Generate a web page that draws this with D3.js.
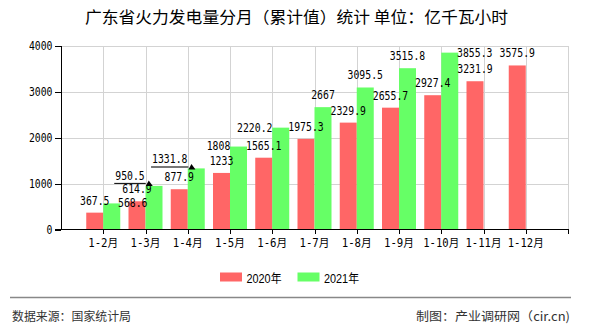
<!DOCTYPE html>
<html><head><meta charset="utf-8">
<script src="https://cdn.jsdelivr.net/npm/d3@7"></script>
<style>
html,body{margin:0;padding:0;background:#fff;}
svg{display:block;}
</style></head>
<body>
<svg id="chart" width="590" height="330"></svg>
<script>
// ---- data ----
const categories = ["1-2月","1-3月","1-4月","1-5月","1-6月","1-7月","1-8月","1-9月","1-10月","1-11月","1-12月"];
const values2020 = [367.5, 614.9, 877.9, 1233, 1565.1, 1975.3, 2329.9, 2655.7, 2927.4, 3231.9, 3575.9];
const values2021 = [568.6, 950.5, 1331.8, 1808, 2220.2, 2667, 3095.5, 3515.8, 3855.3, null, null];
const seriesNames = ["2020年", "2021年"];
const yTickValues = [0, 1000, 2000, 3000, 4000];
const titleText = "广东省火力发电量分月（累计值）统计 单位：亿千瓦小时";
const sourceText = "数据来源：国家统计局";
const creditText = "制图：产业调研网（cir.cn)";

(function () {
// ---- layout ----
const svg = d3.select("#chart");
const colors = ["#FF6666", "#66FF66"];
const mono = "'DejaVu Sans Mono','Liberation Mono','Noto Sans CJK SC',monospace";
const cjk = "'Noto Sans CJK SC','DejaVu Sans',sans-serif";
const pLeft = 61, pRight = 568, pTop = 46, pBottom = 229.5;
const barW = 17;

function simWidth(s, a, c) { let w = 0; for (const ch of s) w += ch.charCodeAt(0) < 128 ? a : c; return w; }

const x = d3.scalePoint().domain(categories).range([pLeft, pRight]).padding(1);
const y = d3.scaleLinear().domain([0, 4000]).range([pBottom, pTop]);

// grid
const grid = svg.append("g").attr("shape-rendering", "crispEdges");
grid.selectAll("line.h").data(yTickValues.filter(d => d > 0)).join("line")
  .attr("x1", pLeft).attr("x2", pRight).attr("y1", d => Math.round(y(d)) + 0.5).attr("y2", d => Math.round(y(d)) + 0.5)
  .attr("stroke", "#d3d3d3");
grid.selectAll("line.v").data(categories).join("line")
  .attr("x1", d => Math.round(x(d)) + 0.5).attr("x2", d => Math.round(x(d)) + 0.5)
  .attr("y1", pTop).attr("y2", pBottom).attr("stroke", "#d3d3d3");
grid.append("line").attr("x1", pRight + 0.5).attr("x2", pRight + 0.5).attr("y1", pTop).attr("y2", pBottom).attr("stroke", "#d3d3d3");

// bars
const series = [values2020, values2021];
series.forEach((vals, si) => {
  svg.append("g").selectAll("rect").data(categories.map((c, i) => ({c, v: vals[i]})).filter(d => d.v != null)).join("rect")
    .attr("x", d => x(d.c) + (si === 0 ? -barW : 0))
    .attr("width", barW)
    .attr("y", d => y(d.v))
    .attr("height", d => pBottom - y(d.v))
    .attr("fill", colors[si]);
});

// axes
const ax = svg.append("g").attr("shape-rendering", "crispEdges").attr("stroke", "#000");
ax.append("line").attr("x1", pLeft + 0.5).attr("x2", pLeft + 0.5).attr("y1", pTop).attr("y2", pBottom + 0.5);
ax.append("line").attr("x1", pLeft - 6).attr("x2", pRight + 1).attr("y1", pBottom).attr("y2", pBottom);
ax.selectAll("line.yt").data(yTickValues).join("line")
  .attr("x1", pLeft - 6).attr("x2", pLeft).attr("y1", d => Math.round(y(d)) + 0.5).attr("y2", d => Math.round(y(d)) + 0.5);
ax.selectAll("line.xt").data(categories).join("line")
  .attr("x1", d => Math.round(x(d)) + 0.5).attr("x2", d => Math.round(x(d)) + 0.5).attr("y1", pBottom).attr("y2", pBottom + 4);
ax.append("line").attr("x1", pRight + 0.5).attr("x2", pRight + 0.5).attr("y1", pBottom).attr("y2", pBottom + 4);

// y tick labels
svg.append("g").selectAll("text").data(yTickValues).join("text")
  .attr("x", 52.5).attr("y", d => y(d) + 4)
  .attr("text-anchor", "end").attr("font-family", mono).attr("font-size", 11.5)
  .attr("textLength", d => simWidth(String(d), 5.9, 12)).attr("lengthAdjust", "spacingAndGlyphs")
  .text(d => d);

// x tick labels
svg.append("g").selectAll("text").data(categories).join("text")
  .attr("x", d => x(d)).attr("y", 246.5)
  .attr("text-anchor", "middle").attr("font-family", mono).attr("font-size", 11.5)
  .attr("textLength", d => simWidth(d, 6, 12)).attr("lengthAdjust", "spacingAndGlyphs")
  .text(d => d);

// value labels (with displacement used in the reference to avoid overlaps)
const shift2021 = [[21, 12], [-24, 2], [-26.5, 3], [-20, 11.5], [-26, 12], [0, 0], [0, 0], [0, 0], [25, 12], [0, 0], [0, 0]];
const labG = svg.append("g");
series.forEach((vals, si) => {
  vals.forEach((v, i) => {
    if (v == null) return;
    const s = String(v);
    const cx = x(categories[i]) + (si === 0 ? -barW / 2 : barW / 2) + (si === 1 ? shift2021[i][0] : 0);
    const by = y(v) - 8 + (si === 1 ? shift2021[i][1] : 0);
    const w = simWidth(s, 5.9, 12);
    labG.append("text").attr("x", cx).attr("y", by).attr("text-anchor", "middle")
      .attr("font-family", mono).attr("font-size", 11.5)
      .attr("textLength", w).attr("lengthAdjust", "spacingAndGlyphs").text(s);
    if (si === 1 && (i === 1 || i === 2)) {
      const ly = by + 3.5, x0 = cx - w / 2 - 1, x1 = cx + w / 2 + 1;
      labG.append("line").attr("x1", x0).attr("x2", x1).attr("y1", ly).attr("y2", ly)
        .attr("stroke", i === 1 ? "#000" : "#777").attr("stroke-width", i === 1 ? 1 : 2);
      labG.append("path").attr("d", `M${x1},${ly + 2.5}L${x1 + 3},${ly - 3}L${x1 + 7},${ly + 2.5}Z`).attr("fill", "#000");
    }
  });
});

// title
svg.append("text").attr("x", 85).attr("y", 23).attr("font-family", cjk).attr("font-size", 16)
  .attr("fill", "#000").attr("textLength", 423).attr("lengthAdjust", "spacingAndGlyphs").text(titleText);

// legend
const legX = [220, 297.5];
seriesNames.forEach((n, i) => {
  svg.append("rect").attr("x", legX[i]).attr("y", 272.5).attr("width", 22).attr("height", 9).attr("fill", colors[i]);
  svg.append("text").attr("x", legX[i] + 26.5).attr("y", 283).attr("font-family", "'Liberation Sans','Noto Sans CJK SC',sans-serif")
    .attr("font-size", 12).attr("textLength", 35).attr("lengthAdjust", "spacingAndGlyphs").text(n);
});

// footer
svg.append("line").attr("x1", 10).attr("x2", 571).attr("y1", 297.5).attr("y2", 297.5).attr("stroke", "#888").attr("stroke-width", 1.5);
svg.append("text").attr("x", 12).attr("y", 320.5).attr("font-family", cjk).attr("font-size", 12).attr("fill", "#333")
  .attr("textLength", 119).attr("lengthAdjust", "spacingAndGlyphs").text(sourceText);
svg.append("text").attr("x", 570).attr("y", 320.5).attr("text-anchor", "end").attr("font-family", cjk).attr("font-size", 12).attr("fill", "#333")
  .attr("textLength", 154).attr("lengthAdjust", "spacingAndGlyphs").text(creditText);
})();
</script>
</body></html>
